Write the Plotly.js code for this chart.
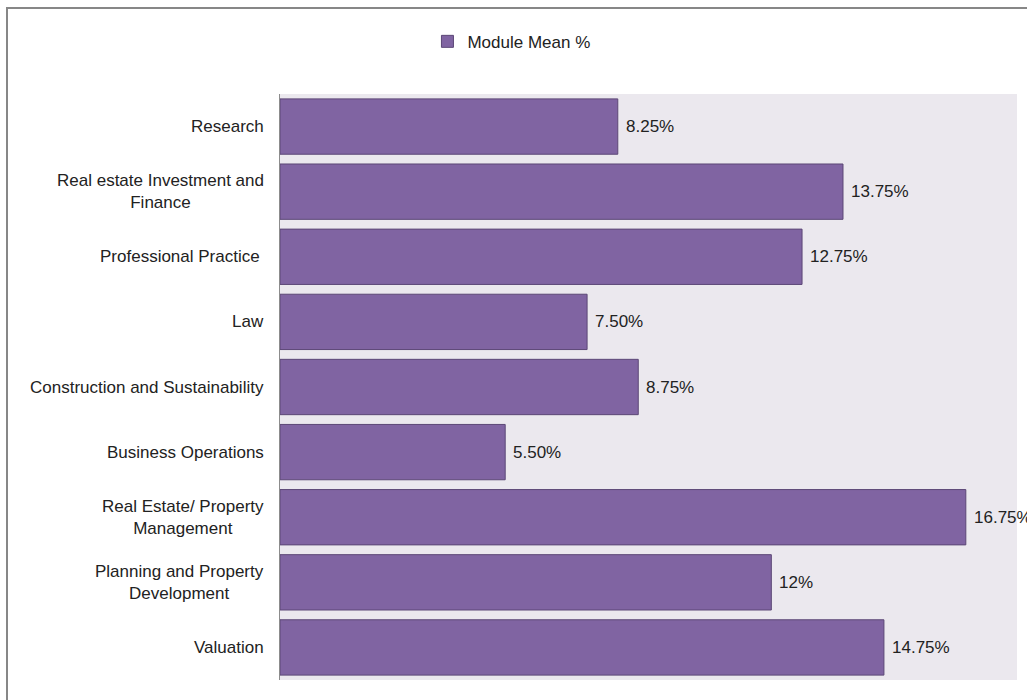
<!DOCTYPE html>
<html>
<head>
<meta charset="utf-8">
<script src="https://cdn.plot.ly/plotly-3.0.1.min.js"></script>
<style>html,body{margin:0;padding:0;background:#fff;}#chart{width:1027px;height:700px;}</style>
</head>
<body>
<div id="chart"></div>
<script>
const categories = ["Research", "Real estate Investment and<br>Finance", "Professional Practice ", "Law", "Construction and Sustainability", "Business Operations", "Real Estate/ Property<br>Management", "Planning and Property<br>Development", "Valuation"];
const values = [8.25, 13.75, 12.75, 7.5, 8.75, 5.5, 16.75, 12, 14.75];
const valueLabels = ["8.25%", "13.75%", "12.75%", "7.50%", "8.75%", "5.50%", "16.75%", "12%", "14.75%"];
const seriesName = "Module Mean %";

const FONT = "Liberation Sans Narrow, Arial Narrow, sans-serif";
const annotations = [];
categories.forEach((c, i) => {
  annotations.push({x: 0, y: i, xref: 'x', yref: 'y', text: c, showarrow: false, xanchor: 'right', yanchor: 'middle', align: 'center', xshift: -14, font: {family: FONT, size: 17, color: '#222'}});
  annotations.push({x: values[i], y: i, xref: 'x', yref: 'y', text: valueLabels[i], showarrow: false, xanchor: 'left', yanchor: 'middle', xshift: 6, font: {family: FONT, size: 17, color: '#222'}});
});

const trace = {
  type: 'bar', orientation: 'h', name: seriesName,
  x: values, y: categories.map((c, i) => i),
  marker: {color: '#8064A2', line: {color: '#5C4776', width: 1}},
  showlegend: true, hoverinfo: 'none'
};

const layout = {
  width: 1027, height: 700,
  margin: {l: 280, r: 10, t: 94, b: 20},
  paper_bgcolor: '#ffffff', plot_bgcolor: '#EBE8EE',
  font: {family: FONT, size: 17, color: '#222'},
  bargap: 0.15,
  xaxis: {range: [0, 18], showgrid: false, zeroline: false, showticklabels: false, ticks: '', showline: false, fixedrange: true},
  yaxis: {range: [8.5, -0.5], showgrid: false, zeroline: false, showticklabels: false, ticks: '', showline: true, linecolor: '#8C8C8C', linewidth: 1, fixedrange: true},
  showlegend: true,
  legend: {orientation: 'h', xref: 'container', yref: 'container', x: 0.498, xanchor: 'center', y: 0.966, yanchor: 'top', font: {family: FONT, size: 17, color: '#222'}, itemwidth: 30},
  annotations: annotations,
  shapes: [{type: 'rect', xref: 'paper', yref: 'paper', x0: (7 - 280) / 737, x1: 1.2, y0: -0.2, y1: 1 + (94 - 8) / 586, line: {color: '#878787', width: 2}, fillcolor: 'rgba(0,0,0,0)', layer: 'below'}]
};

Plotly.newPlot('chart', [trace], layout, {displayModeBar: false, staticPlot: true});
</script>
</body>
</html>
